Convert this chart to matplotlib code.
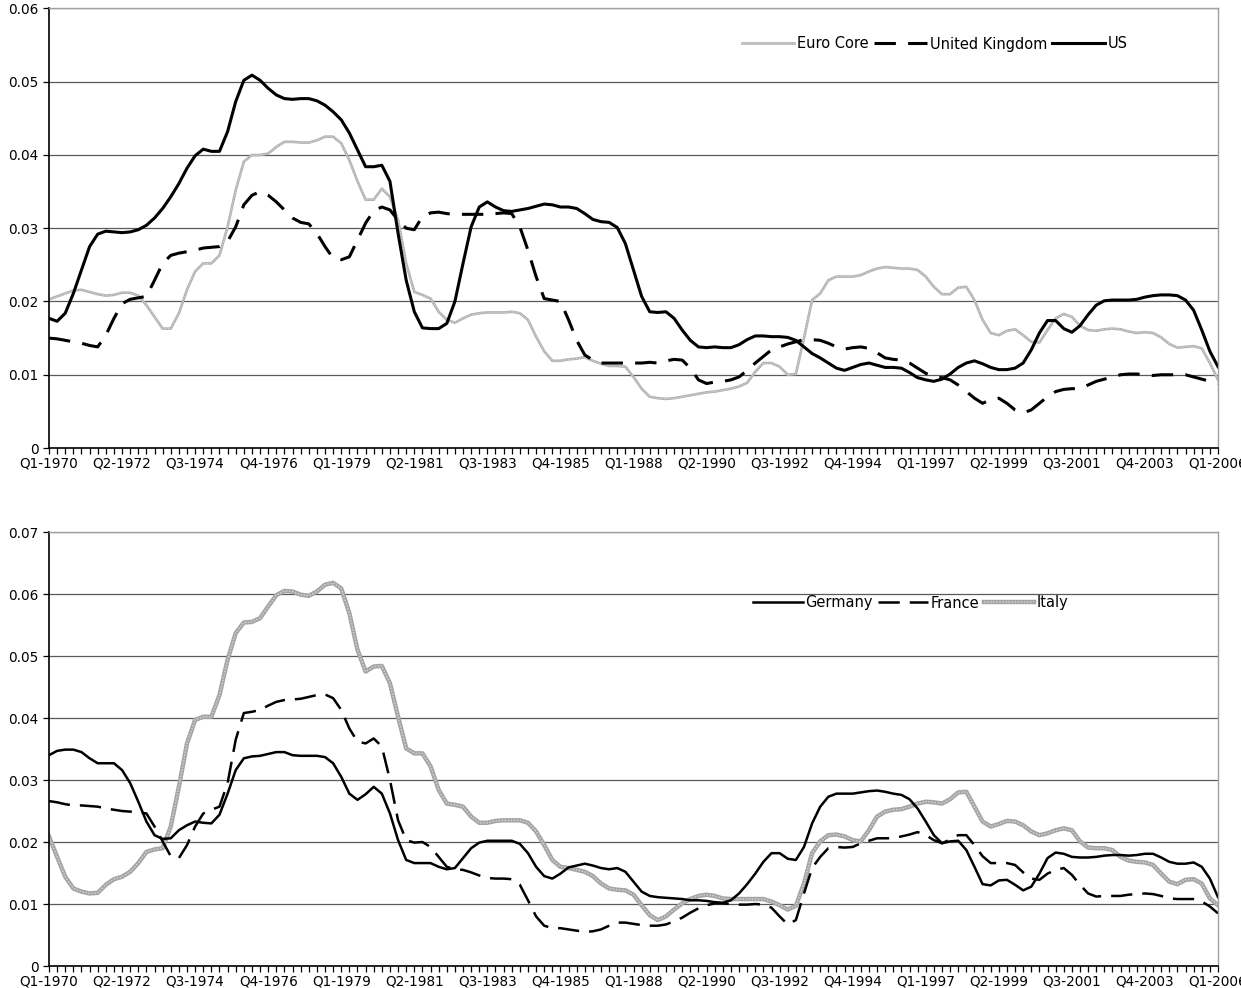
import matplotlib
matplotlib.use("Agg")
import matplotlib.pyplot as plt
from matplotlib.ticker import FixedLocator, FixedFormatter

plt.rcParams['font.family'] = ['DejaVu Sans']

# ---------------- data ----------------
years = list(range(1970, 2007))
quarters = [f"Q{q}-{y}" for y in years for q in (1, 2, 3, 4)][:145]  # Q1-1970 .. Q1-2006

tick_labels = ["Q1-1970", "Q2-1972", "Q3-1974", "Q4-1976", "Q1-1979", "Q2-1981",
               "Q3-1983", "Q4-1985", "Q1-1988", "Q2-1990", "Q3-1992", "Q4-1994",
               "Q1-1997", "Q2-1999", "Q3-2001", "Q4-2003", "Q1-2006"]

us = [0.0177, 0.0173, 0.0184, 0.0211, 0.0243, 0.0275, 0.0292, 0.0296, 0.0295, 0.0294,
      0.0295, 0.0298, 0.0304, 0.0314, 0.0327, 0.0343, 0.0361, 0.0382, 0.0399, 0.0408,
      0.0405, 0.0405, 0.0432, 0.0473, 0.0502, 0.0509, 0.0502, 0.0491, 0.0482, 0.0477,
      0.0476, 0.0477, 0.0477, 0.0474, 0.0468, 0.0459, 0.0448, 0.0430, 0.0407, 0.0384,
      0.0384, 0.0386, 0.0364, 0.0293, 0.0229, 0.0186, 0.0164, 0.0163, 0.0163, 0.0170,
      0.0200, 0.0252, 0.0302, 0.0329, 0.0336, 0.0329, 0.0324, 0.0323, 0.0325, 0.0327,
      0.0330, 0.0333, 0.0332, 0.0329, 0.0329, 0.0327, 0.0320, 0.0312, 0.0309, 0.0308,
      0.0301, 0.0279, 0.0243, 0.0207, 0.0186, 0.0185, 0.0186, 0.0177, 0.0161, 0.0147,
      0.0138, 0.0137, 0.0138, 0.0137, 0.0137, 0.0141, 0.0148, 0.0153, 0.0153, 0.0152,
      0.0152, 0.0151, 0.0147, 0.0138, 0.0129, 0.0123, 0.0116, 0.0109, 0.0106, 0.0110,
      0.0114, 0.0116, 0.0113, 0.0110, 0.0110, 0.0109, 0.0103, 0.0096, 0.0093, 0.0091,
      0.0094, 0.0101, 0.0110, 0.0116, 0.0119, 0.0115, 0.0110, 0.0107, 0.0107, 0.0109,
      0.0116, 0.0134, 0.0157, 0.0174, 0.0174, 0.0163, 0.0158, 0.0167, 0.0182, 0.0195,
      0.0201, 0.0202, 0.0202, 0.0202, 0.0203, 0.0206, 0.0208, 0.0209, 0.0209, 0.0208,
      0.0202, 0.0188, 0.0161, 0.0132, 0.0111]

uk = [0.0150, 0.0149, 0.0147, 0.0145, 0.0143, 0.0140, 0.0138, 0.0154, 0.0177, 0.0197,
      0.0203, 0.0205, 0.0207, 0.0229, 0.0252, 0.0263, 0.0266, 0.0268, 0.0270, 0.0273,
      0.0274, 0.0275, 0.0282, 0.0302, 0.0332, 0.0345, 0.0350, 0.0345, 0.0336, 0.0325,
      0.0314, 0.0308, 0.0306, 0.0293, 0.0275, 0.0259, 0.0257, 0.0261, 0.0284, 0.0307,
      0.0324, 0.0329, 0.0325, 0.0311, 0.0300, 0.0298, 0.0316, 0.0321, 0.0322, 0.0320,
      0.0319, 0.0319, 0.0319, 0.0319, 0.0319, 0.0320, 0.0321, 0.0320, 0.0302, 0.0270,
      0.0234, 0.0204, 0.0202, 0.0200, 0.0175, 0.0147, 0.0127, 0.0120, 0.0116, 0.0116,
      0.0116, 0.0116, 0.0116, 0.0116, 0.0117, 0.0116, 0.0119, 0.0121, 0.0120, 0.0109,
      0.0093, 0.0088, 0.0090, 0.0091, 0.0093, 0.0097, 0.0106, 0.0116, 0.0125, 0.0134,
      0.0138, 0.0142, 0.0145, 0.0148, 0.0148, 0.0147, 0.0143, 0.0138, 0.0135, 0.0137,
      0.0138, 0.0136, 0.0130, 0.0123, 0.0121, 0.0120, 0.0116, 0.0109, 0.0102, 0.0097,
      0.0096, 0.0093, 0.0086, 0.0077, 0.0068, 0.0061, 0.0066, 0.0068, 0.0061, 0.0052,
      0.0048, 0.0052, 0.0061, 0.0070, 0.0077, 0.0080, 0.0081, 0.0081, 0.0086, 0.0091,
      0.0094, 0.0097, 0.0100, 0.0101, 0.0101, 0.0100, 0.0099, 0.0100, 0.0100, 0.0100,
      0.0100, 0.0097, 0.0094, 0.0091, 0.0088]

euro_core = [0.0203, 0.0207, 0.0211, 0.0215, 0.0216, 0.0213, 0.0210, 0.0208, 0.0209, 0.0212,
             0.0212, 0.0208, 0.0195, 0.0179, 0.0163, 0.0163, 0.0184, 0.0216, 0.0241, 0.0252,
             0.0252, 0.0263, 0.0302, 0.0352, 0.0391, 0.0400, 0.0400, 0.0402, 0.0411, 0.0418,
             0.0418, 0.0417, 0.0417, 0.0420, 0.0425, 0.0425, 0.0416, 0.0393, 0.0364, 0.0339,
             0.0339, 0.0354, 0.0343, 0.0311, 0.0252, 0.0213, 0.0209, 0.0204, 0.0186, 0.0175,
             0.0171, 0.0177, 0.0182, 0.0184, 0.0185, 0.0185, 0.0185, 0.0186, 0.0184, 0.0175,
             0.0152, 0.0132, 0.0119, 0.0119, 0.0121, 0.0122, 0.0124, 0.0119, 0.0115, 0.0112,
             0.0112, 0.0111, 0.0097, 0.0081, 0.0070, 0.0068, 0.0067, 0.0068, 0.0070, 0.0072,
             0.0074, 0.0076, 0.0077, 0.0079, 0.0081, 0.0084, 0.0089, 0.0104, 0.0116, 0.0116,
             0.0111, 0.0100, 0.0101, 0.0150, 0.0202, 0.0211, 0.0229, 0.0234, 0.0234, 0.0234,
             0.0236, 0.0241, 0.0245, 0.0247, 0.0246, 0.0245, 0.0245, 0.0243, 0.0234, 0.0220,
             0.0210, 0.0210, 0.0219, 0.0220, 0.0202, 0.0175, 0.0157, 0.0154, 0.0160, 0.0162,
             0.0154, 0.0145, 0.0144, 0.0161, 0.0177, 0.0183, 0.0179, 0.0167, 0.0161, 0.0160,
             0.0162, 0.0163, 0.0162, 0.0159, 0.0157, 0.0158, 0.0157, 0.0151, 0.0142, 0.0137,
             0.0138, 0.0139, 0.0136, 0.0116, 0.0093]

germany = [0.0340, 0.0347, 0.0349, 0.0349, 0.0345, 0.0335, 0.0327, 0.0327, 0.0327, 0.0316,
           0.0295, 0.0265, 0.0233, 0.0211, 0.0205, 0.0206, 0.0219, 0.0227, 0.0233, 0.0231,
           0.0230, 0.0244, 0.0278, 0.0316, 0.0335, 0.0338, 0.0339, 0.0342, 0.0345, 0.0345,
           0.0340, 0.0339, 0.0339, 0.0339, 0.0337, 0.0327, 0.0305, 0.0278, 0.0268, 0.0277,
           0.0289, 0.0278, 0.0246, 0.0203, 0.0171, 0.0166, 0.0166, 0.0166, 0.0160, 0.0156,
           0.0158, 0.0174, 0.0190, 0.0199, 0.0202, 0.0202, 0.0202, 0.0202, 0.0197, 0.0182,
           0.0160, 0.0145, 0.0141, 0.0149, 0.0159, 0.0162, 0.0165, 0.0162, 0.0158, 0.0156,
           0.0158, 0.0152, 0.0136, 0.0120, 0.0113, 0.0111, 0.0110, 0.0109, 0.0108, 0.0106,
           0.0106, 0.0105, 0.0103, 0.0102, 0.0106, 0.0117, 0.0132, 0.0149, 0.0168, 0.0182,
           0.0182, 0.0173, 0.0171, 0.0192, 0.0230, 0.0257, 0.0273, 0.0278, 0.0278, 0.0278,
           0.0280, 0.0282, 0.0283, 0.0281, 0.0278, 0.0276, 0.0269, 0.0254, 0.0233, 0.0211,
           0.0198, 0.0201, 0.0202, 0.0187, 0.0160, 0.0132, 0.0130, 0.0138, 0.0139, 0.0131,
           0.0122, 0.0128, 0.0149, 0.0174, 0.0183, 0.0181, 0.0176, 0.0175, 0.0175, 0.0176,
           0.0178, 0.0179, 0.0179, 0.0178, 0.0179, 0.0181, 0.0181, 0.0175, 0.0168, 0.0165,
           0.0165, 0.0167, 0.0160, 0.0141, 0.0111]

france = [0.0266, 0.0264, 0.0261, 0.0259, 0.0259, 0.0258, 0.0257, 0.0254, 0.0252, 0.0250,
          0.0249, 0.0248, 0.0246, 0.0225, 0.0201, 0.0177, 0.0174, 0.0195, 0.0225, 0.0246,
          0.0252, 0.0257, 0.0295, 0.0365, 0.0408, 0.0410, 0.0413, 0.0420, 0.0426, 0.0429,
          0.0430, 0.0431, 0.0434, 0.0437, 0.0438, 0.0432, 0.0413, 0.0383, 0.0362, 0.0359,
          0.0367, 0.0354, 0.0300, 0.0235, 0.0203, 0.0199, 0.0200, 0.0192, 0.0176, 0.0160,
          0.0156, 0.0155, 0.0151, 0.0146, 0.0142, 0.0141, 0.0141, 0.0140, 0.0131, 0.0106,
          0.0080, 0.0065, 0.0061, 0.0061, 0.0059, 0.0057, 0.0055, 0.0056, 0.0059, 0.0065,
          0.0070, 0.0070, 0.0068, 0.0066, 0.0065, 0.0065, 0.0067, 0.0072, 0.0078, 0.0086,
          0.0093, 0.0098, 0.0101, 0.0101, 0.0100, 0.0099, 0.0099, 0.0100, 0.0099, 0.0094,
          0.0080, 0.0067, 0.0074, 0.0117, 0.0158, 0.0176, 0.0190, 0.0192, 0.0191, 0.0192,
          0.0198, 0.0202, 0.0206, 0.0206, 0.0206, 0.0209, 0.0212, 0.0216, 0.0211, 0.0203,
          0.0198, 0.0204, 0.0211, 0.0211, 0.0195, 0.0177, 0.0166, 0.0166, 0.0166, 0.0163,
          0.0151, 0.0141, 0.0139, 0.0149, 0.0155, 0.0158, 0.0147, 0.0131, 0.0117, 0.0112,
          0.0113, 0.0113, 0.0113, 0.0115, 0.0116, 0.0117, 0.0116, 0.0113, 0.0109, 0.0108,
          0.0108, 0.0108, 0.0104, 0.0096, 0.0085]

italy = [0.0209, 0.0176, 0.0144, 0.0125, 0.0120, 0.0117, 0.0118, 0.0131, 0.0140, 0.0144,
         0.0152, 0.0166, 0.0184, 0.0188, 0.0190, 0.0225, 0.0289, 0.0359, 0.0397, 0.0402,
         0.0402, 0.0437, 0.0494, 0.0537, 0.0554, 0.0555, 0.0561, 0.0580, 0.0598, 0.0605,
         0.0604, 0.0599, 0.0597, 0.0604, 0.0615, 0.0618, 0.0609, 0.0569, 0.0510, 0.0475,
         0.0483, 0.0484, 0.0456, 0.0402, 0.0351, 0.0343, 0.0343, 0.0322, 0.0284, 0.0262,
         0.0260, 0.0257, 0.0241, 0.0231, 0.0231, 0.0234, 0.0235, 0.0235, 0.0235, 0.0231,
         0.0217, 0.0195, 0.0171, 0.0160, 0.0158, 0.0155, 0.0152, 0.0145, 0.0133, 0.0125,
         0.0123, 0.0122, 0.0115, 0.0098, 0.0082, 0.0074, 0.0080, 0.0091, 0.0101, 0.0108,
         0.0113, 0.0115, 0.0113, 0.0109, 0.0108, 0.0108, 0.0108, 0.0108, 0.0108, 0.0104,
         0.0098, 0.0091, 0.0097, 0.0133, 0.0182, 0.0201, 0.0211, 0.0212, 0.0209, 0.0203,
         0.0201, 0.0219, 0.0241, 0.0249, 0.0252, 0.0253, 0.0257, 0.0262, 0.0265, 0.0264,
         0.0262, 0.0269, 0.0280, 0.0281, 0.0257, 0.0233, 0.0225, 0.0229, 0.0234, 0.0233,
         0.0227, 0.0217, 0.0211, 0.0214, 0.0219, 0.0222, 0.0219, 0.0201, 0.0191, 0.0190,
         0.0190, 0.0187, 0.0176, 0.0170, 0.0168, 0.0167, 0.0163, 0.0149, 0.0136, 0.0132,
         0.0139, 0.0140, 0.0133, 0.0109, 0.0098]

# ---------------- figure ----------------
W, H = 1241, 988
fig = plt.figure(figsize=(W / 100, H / 100), dpi=100)

def px_axes(left, top, right, bottom):
    return fig.add_axes([left / W, 1 - bottom / H, (right - left) / W, (bottom - top) / H])

ax1 = px_axes(49, 8.5, 1218, 448)
ax2 = px_axes(49, 532, 1218, 966)

x = list(range(len(quarters)))
tick_pos = [quarters.index(t) for t in tick_labels]
FS = 9.8
LFS = 10.5

def style_axes(ax, ymax):
    n = int(round(ymax / 0.01))
    ax.set_xlim(0, len(quarters) - 1)
    ax.set_ylim(0, ymax)
    ax.set_yticks([round(0.01 * k, 2) for k in range(n + 1)])
    ax.set_yticklabels(["0" if k == 0 else f"{0.01 * k:.2f}" for k in range(n + 1)])
    ax.xaxis.set_major_locator(FixedLocator(tick_pos))
    ax.xaxis.set_major_formatter(FixedFormatter(tick_labels))
    ax.xaxis.set_minor_locator(FixedLocator(x))
    ax.tick_params(axis='x', which='both', direction='out', length=4.5, width=0.9,
                   color='black', labelsize=FS, pad=1.5)
    ax.tick_params(axis='y', which='major', direction='out', length=4.5, width=0.9,
                   color='black', labelsize=FS, pad=3)
    ax.grid(axis='y', color='#5a5a5a', linewidth=0.9)
    ax.set_axisbelow(True)
    for side in ('left', 'bottom'):
        ax.spines[side].set_color('black')
        ax.spines[side].set_linewidth(1.2)
    for side in ('top', 'right'):
        ax.spines[side].set_color('#a0a0a0')
        ax.spines[side].set_linewidth(1.0)

# ---- top panel ----
ec_base, = ax1.plot(x, euro_core, color='#b0b0b0', lw=1.9, solid_joinstyle='round')
ec_dots, = ax1.plot(x, euro_core, color='#d6d6d6', lw=0.8, dashes=(1.2, 1.2))
uk_line, = ax1.plot(x, uk, color='black', lw=2.2, dashes=(7, 4))
us_line, = ax1.plot(x, us, color='black', lw=2.2, solid_joinstyle='round')
style_axes(ax1, 0.06)

fig.legend([(ec_base, ec_dots), uk_line, us_line],
           ["Euro Core", "United Kingdom", "US"],
           loc='center left', bbox_to_anchor=(742 / W, 1 - 44 / H),
           ncol=3, frameon=False, fontsize=LFS, handlelength=3.6,
           handletextpad=0.2, columnspacing=0.35, borderpad=0, borderaxespad=0)

# ---- bottom panel ----
it_base, = ax2.plot(x, italy, color='#a4a4a4', lw=3.2, solid_joinstyle='round')
it_dots, = ax2.plot(x, italy, color='#d2d2d2', lw=1.1, dashes=(1, 1))
fr_line, = ax2.plot(x, france, color='black', lw=1.8, dashes=(8.5, 4))
de_line, = ax2.plot(x, germany, color='black', lw=1.8, solid_joinstyle='round')
style_axes(ax2, 0.07)

fig.legend([de_line, fr_line, (it_base, it_dots)],
           ["Germany", "France", "Italy"],
           loc='center left', bbox_to_anchor=(753 / W, 1 - 603 / H),
           ncol=3, frameon=False, fontsize=LFS, handlelength=3.4,
           handletextpad=0.2, columnspacing=0.35, borderpad=0, borderaxespad=0)

fig.savefig("out.png", dpi=100)
